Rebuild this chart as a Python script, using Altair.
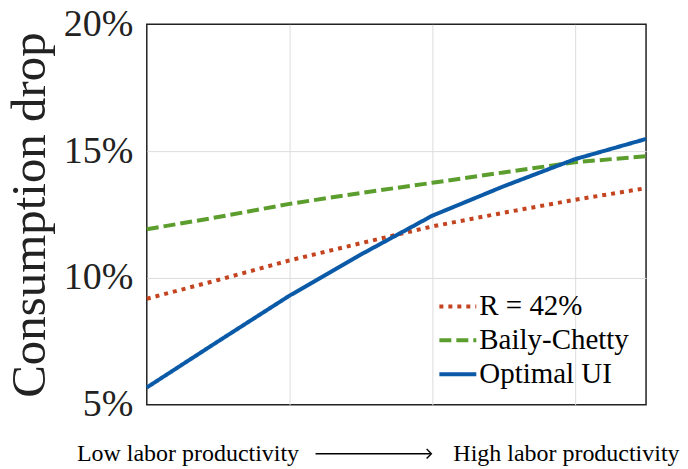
import altair as alt
import pandas as pd

# ---- data ----
x_vals = [0, 0.5, 1, 1.5, 2, 2.5, 3, 3.5]
series_names = ["R = 42%", "Baily-Chetty", "Optimal UI"]
r42 = [9.18, 9.92, 10.69, 11.37, 12.03, 12.57, 13.08, 13.54]
baily = [11.92, 12.40, 12.92, 13.35, 13.75, 14.16, 14.56, 14.80]
optimal = [5.68, 7.50, 9.30, 10.92, 12.45, 13.61, 14.68, 15.48]
y_ticks = [5, 10, 15, 20]
x_grid = [1, 2, 3]
low_label = "Low labor productivity"
high_label = "High labor productivity"
y_title = "Consumption drop"

colors = ["#c4441f", "#5c9e2d", "#0b5aa8"]
dashes = [[4, 5], [12, 5], [1, 0]]
serif = "Liberation Serif"

rows = []
for k, (name, vals) in enumerate(zip(series_names, [r42, baily, optimal])):
    for x, v in zip(x_vals, vals):
        rows.append({"x": x, "value": v, "series": name, "k": k})
df = pd.DataFrame(rows)

lines = alt.Chart(df).mark_line(strokeWidth=4).encode(
    x=alt.X("x:Q", scale=alt.Scale(domain=[0, 3.5], nice=False, zero=False),
            axis=alt.Axis(values=x_grid, labels=False, ticks=False, domain=False,
                          title=None, grid=True)),
    y=alt.Y("value:Q", scale=alt.Scale(domain=[5, 20], nice=False, zero=False),
            axis=alt.Axis(values=y_ticks, labelExpr="datum.value + '%'", ticks=False,
                          domain=False, title=y_title, titleX=-141, titleY=190.5,
                          titleAngle=-90, titleBaseline="top", titleAlign="center",
                          gridOpacity=alt.condition("datum.value == 5 || datum.value == 20",
                                                    alt.value(0), alt.value(1)))),
    color=alt.Color("series:N", title=None,
                    scale=alt.Scale(domain=series_names, range=colors)),
    strokeDash=alt.StrokeDash("series:N", title=None,
                              scale=alt.Scale(domain=series_names, range=dashes)),
    order=alt.Order("k:Q"),
)

one = alt.Data(values=[{"a": 1}])
low = alt.Chart(one).mark_text(align="left", baseline="alphabetic", font=serif,
                               fontSize=24, color="black").encode(
    x=alt.value(-70), y=alt.value(437), text=alt.value(low_label))
high = alt.Chart(one).mark_text(align="left", baseline="alphabetic", font=serif,
                                fontSize=24, color="black").encode(
    x=alt.value(307), y=alt.value(437), text=alt.value(high_label))
shaft = alt.Chart(one).mark_rule(strokeWidth=1.4, color="black").encode(
    x=alt.value(169), x2=alt.value(284), y=alt.value(430))
head = alt.Chart(one).mark_point(shape="M-1,-1L0,0L-1,1", filled=False, size=90,
                                 strokeWidth=1.4, color="black", opacity=1).encode(
    x=alt.value(285), y=alt.value(430))

chart = alt.layer(lines, low, high, shaft, head).properties(
    width=500, height=381,
    autosize=alt.AutoSizeParams(type="none"),
    padding={"left": 139, "top": 16, "right": 34, "bottom": 64},
).configure_view(
    stroke="#222", strokeWidth=1.5
).configure_axis(
    gridColor="#dcdcdc", gridWidth=1, labelFont=serif, labelFontSize=38,
    labelColor="#222", titleFont=serif, titleFontSize=49, titleFontWeight="normal",
    titleColor="#222", labelPadding=14
).configure_legend(
    orient="none", legendX=297, legendY=268, labelFont=serif, labelFontSize=29,
    labelColor="black", symbolType="M-2,0L2,0", symbolSize=342, symbolStrokeWidth=4,
    rowPadding=4, labelOffset=7, padding=0
)

chart.save("out.html", embed_options={"renderer": "svg", "actions": False})
